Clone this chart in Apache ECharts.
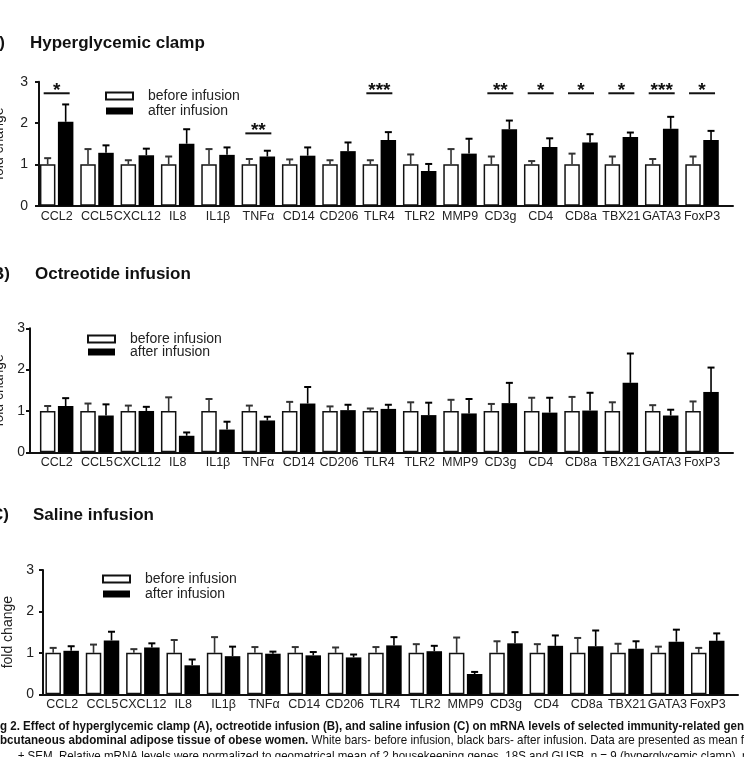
<!DOCTYPE html>
<html>
<head>
<meta charset="utf-8">
<script src="https://cdn.jsdelivr.net/npm/echarts@6/dist/echarts.min.js"></script>
<style>
  html, body { margin: 0; padding: 0; background: #fff; }
  #chart { width: 744px; height: 757px; }
</style>
</head>
<body>
<div id="chart"></div>
<script>
// genes on the x axis (same for all three panels)
const genes = ['CCL2', 'CCL5', 'CXCL12', 'IL8', 'IL1β', 'TNFα', 'CD14', 'CD206', 'TLR4',
  'TLR2', 'MMP9', 'CD3g', 'CD4', 'CD8a', 'TBX21', 'GATA3', 'FoxP3'];

// before infusion is the reference level (fold change = 1)
const beforeMean = [1, 1, 1, 1, 1, 1, 1, 1, 1, 1, 1, 1, 1, 1, 1, 1, 1];

// A) hyperglycemic clamp
const clampBeforeSem = [0.15, 0.37, 0.10, 0.19, 0.37, 0.13, 0.12, 0.10, 0.10, 0.24, 0.37, 0.19, 0.08, 0.26, 0.19, 0.13, 0.19];
const clampAfter = [2.03, 1.28, 1.22, 1.50, 1.23, 1.19, 1.21, 1.32, 1.59, 0.84, 1.26, 1.85, 1.42, 1.53, 1.66, 1.86, 1.59];
const clampAfterSem = [0.42, 0.18, 0.16, 0.35, 0.18, 0.14, 0.20, 0.21, 0.19, 0.17, 0.36, 0.21, 0.21, 0.20, 0.11, 0.29, 0.22];
// significance marks: number of stars and height of the bar line
const clampStars = [1, 0, 0, 0, 0, 2, 0, 0, 3, 0, 0, 2, 1, 1, 1, 3, 1];
const clampStarLevel = [2.72, 0, 0, 0, 0, 1.75, 0, 0, 2.72, 0, 0, 2.72, 2.72, 2.72, 2.72, 2.72, 2.72];

// B) octreotide infusion
const octBeforeSem = [0.12, 0.18, 0.13, 0.33, 0.29, 0.13, 0.22, 0.11, 0.06, 0.21, 0.27, 0.17, 0.32, 0.34, 0.21, 0.14, 0.23];
const octAfter = [1.12, 0.89, 1.00, 0.40, 0.55, 0.77, 1.18, 1.02, 1.05, 0.90, 0.94, 1.19, 0.96, 1.01, 1.68, 0.89, 1.46];
const octAfterSem = [0.19, 0.27, 0.10, 0.08, 0.19, 0.09, 0.40, 0.13, 0.10, 0.30, 0.35, 0.49, 0.36, 0.43, 0.71, 0.14, 0.59];

// C) saline infusion
const salBeforeSem = [0.12, 0.20, 0.09, 0.31, 0.38, 0.14, 0.14, 0.13, 0.14, 0.21, 0.37, 0.28, 0.21, 0.36, 0.22, 0.15, 0.12];
const salAfter = [1.05, 1.30, 1.13, 0.70, 0.92, 0.98, 0.94, 0.89, 1.18, 1.04, 0.49, 1.23, 1.17, 1.16, 1.10, 1.27, 1.29];
const salAfterSem = [0.11, 0.21, 0.10, 0.14, 0.23, 0.05, 0.08, 0.07, 0.20, 0.13, 0.05, 0.27, 0.25, 0.38, 0.18, 0.29, 0.18];

const FONT = '"Liberation Sans", Arial, Helvetica, sans-serif';
const INK = '#111';

const chart = echarts.init(document.getElementById('chart'));

// error bar (upper whisker only), shifted to the white / black bar
function errorBar(offset, color) {
  return function (params, api) {
    const i = api.value(0);
    const p0 = api.coord([i, api.value(1)]);
    const p1 = api.coord([i, api.value(2)]);
    const x = p0[0] + offset;
    return {
      type: 'group',
      children: [
        { type: 'line', shape: { x1: x, y1: p0[1], x2: x, y2: p1[1] }, style: { stroke: color, lineWidth: 1.6 } },
        { type: 'line', shape: { x1: x - 3.5, y1: p1[1], x2: x + 3.5, y2: p1[1] }, style: { stroke: color, lineWidth: 2 } }
      ]
    };
  };
}

function sigMark(params, api) {
  const p = api.coord([api.value(0), api.value(1)]);
  const n = api.value(2);
  return {
    type: 'group',
    children: [
      { type: 'line', shape: { x1: p[0] - 13, y1: p[1], x2: p[0] + 13, y2: p[1] }, style: { stroke: INK, lineWidth: 2 } },
      { type: 'text', x: p[0], y: p[1] - 3, style: { text: '*'.repeat(n), font: 'bold 19px ' + FONT, fill: INK, align: 'center', verticalAlign: 'middle' } }
    ]
  };
}

const grid = [], xAxis = [], yAxis = [], series = [], legend = [];

function panel(k, cfg) {
  const f = 2 * k, b = 2 * k + 1;
  // frame grid: axis lines and y labels
  grid.push({ left: cfg.axisLeft, right: cfg.axisRight, top: cfg.top, height: cfg.height, outerBoundsMode: 'none', containLabel: false });
  // bar grid: category bands
  grid.push({ left: cfg.barLeft, right: cfg.barRight, top: cfg.top, height: cfg.height, outerBoundsMode: 'none', containLabel: false });
  xAxis.push({
    gridIndex: f, type: 'value', min: 0, max: 1,
    axisLine: { show: true, onZero: false, lineStyle: { color: INK, width: 2 } },
    axisTick: { show: false }, axisLabel: { show: false }, splitLine: { show: false }
  });
  xAxis.push({
    gridIndex: b, type: 'category', data: genes,
    axisLine: { show: false }, axisTick: { show: false },
    axisLabel: { interval: 0, margin: 4, fontSize: 12.5, fontFamily: FONT, color: '#222', hideOverlap: false }
  });
  yAxis.push({
    gridIndex: f, type: 'value', min: 0, max: 3, interval: 1,
    name: 'fold change', nameLocation: 'middle', nameGap: cfg.nameGap,
    nameTextStyle: { fontSize: 14, fontFamily: FONT, color: '#222' },
    axisLine: { show: true, onZero: false, lineStyle: { color: INK, width: 2 } },
    axisTick: { show: true, length: 4, lineStyle: { color: INK, width: 2 } },
    axisLabel: { margin: cfg.labelMargin, fontSize: 14, fontFamily: FONT, color: '#222' },
    splitLine: { show: false }
  });
  yAxis.push({ gridIndex: b, type: 'value', min: 0, max: 3, show: false });

  series.push({
    name: 'before infusion', type: 'bar', xAxisIndex: b, yAxisIndex: b,
    data: beforeMean, barWidth: 15.5, barGap: '16%',
    itemStyle: { color: '#fff', borderColor: INK, borderWidth: 1.5 }
  });
  series.push({
    name: 'after infusion', type: 'bar', xAxisIndex: b, yAxisIndex: b,
    data: cfg.after, barWidth: 15.5, barGap: '16%',
    itemStyle: { color: '#000' }
  });
  series.push({
    type: 'custom', xAxisIndex: b, yAxisIndex: b, z: 5,
    renderItem: errorBar(-9, '#333'),
    data: beforeMean.map((v, i) => [i, v, v + cfg.beforeSem[i]])
  });
  series.push({
    type: 'custom', xAxisIndex: b, yAxisIndex: b, z: 5,
    renderItem: errorBar(9, '#000'),
    data: cfg.after.map((v, i) => [i, v, v + cfg.afterSem[i]])
  });
  if (cfg.stars) {
    series.push({
      type: 'custom', xAxisIndex: b, yAxisIndex: b, z: 5, clip: false,
      renderItem: sigMark,
      data: cfg.stars.map((n, i) => [i, cfg.starLevel[i], n]).filter(d => d[2] > 0)
    });
  }
  legend.push({
    data: [{ name: 'before infusion', icon: 'rect' }, { name: 'after infusion', icon: 'rect' }],
    orient: 'vertical',
    left: cfg.legendLeft, top: cfg.legendTop, itemGap: cfg.legendGap,
    itemWidth: 27, itemHeight: 7, selectedMode: false, padding: 0,
    textStyle: { fontSize: 14, fontFamily: FONT, color: '#222', padding: [0, 0, 0, 10] }
  });
}

panel(0, {
  axisLeft: 39, axisRight: 11, barLeft: 36.5, barRight: 21.8, top: 81.7, height: 124,
  nameGap: 33, labelMargin: 11,
  after: clampAfter, beforeSem: clampBeforeSem, afterSem: clampAfterSem,
  stars: clampStars, starLevel: clampStarLevel,
  legendLeft: 105, legendTop: 89, legendGap: 1
});
panel(1, {
  axisLeft: 30, axisRight: 11, barLeft: 36.5, barRight: 21.8, top: 328.3, height: 124,
  nameGap: 24, labelMargin: 5,
  after: octAfter, beforeSem: octBeforeSem, afterSem: octAfterSem,
  legendLeft: 87, legendTop: 332, legendGap: -1
});
panel(2, {
  axisLeft: 43, axisRight: 6, barLeft: 42, barRight: 16.1, top: 570, height: 124.3,
  nameGap: 27, labelMargin: 9,
  after: salAfter, beforeSem: salBeforeSem, afterSem: salAfterSem,
  legendLeft: 102, legendTop: 572, legendGap: 1
});

// caption: condensed to fit the cropped figure width
const ctx = document.createElement('canvas').getContext('2d');
function tw(t, font) { ctx.font = font; return ctx.measureText(t).width; }
const capB = 'bold 13px ' + FONT, capN = '13px ' + FONT;
const cap1 = 'Fig 2. Effect of hyperglycemic clamp (A), octreotide infusion (B), and saline infusion (C) on mRNA levels of selected immunity-related genes in';
const s1 = 744 / tw('g 2. Effect of hyperglycemic clamp (A), octreotide infusion (B), and saline infusion (C) on mRNA levels of selected immunity-related gen', capB);
const cap2b = 'subcutaneous abdominal adipose tissue of obese women.';
const cap2n = ' White bars- before infusion, black bars- after infusion. Data are presented as mean fold';
const s2 = 744 / (tw('bcutaneous abdominal adipose tissue of obese women.', capB) + tw(' White bars- before infusion, black bars- after infusion. Data are presented as mean f', capN));
const cap3 = '± SEM. Relative mRNA levels were normalized to geometrical mean of 2 housekeeping genes, 18S and GUSB. n = 9 (hyperglycemic clamp), n = 8';

const text = (x, y, t, font, align) => ({
  type: 'text', x: x, y: y,
  style: { text: t, font: font, fill: '#111', align: align || 'left', verticalAlign: 'middle' }
});

const graphic = [
  text(5, 43, 'A)', 'bold 17px ' + FONT, 'right'),
  text(30, 43, 'Hyperglycemic clamp', 'bold 17px ' + FONT),
  text(10, 274, 'B)', 'bold 17px ' + FONT, 'right'),
  text(35, 274, 'Octreotide infusion', 'bold 17px ' + FONT),
  text(9, 515, 'C)', 'bold 17px ' + FONT, 'right'),
  text(33, 515, 'Saline infusion', 'bold 17px ' + FONT),
  Object.assign(text(-tw('Fi', capB) * s1, 726, cap1, capB), { scaleX: s1 }),
  {
    type: 'text', x: -tw('su', capB) * s2, y: 740, scaleX: s2,
    style: {
      text: '{b|' + cap2b + '}{n|' + cap2n + '}', verticalAlign: 'middle', fill: '#111',
      rich: { b: { font: capB, fill: '#111' }, n: { font: capN, fill: '#111' } }
    }
  },
  Object.assign(text(18, 756, cap3, capN), { scaleX: s1 })
];

chart.setOption({
  animation: false,
  backgroundColor: '#fff',
  grid: grid, xAxis: xAxis, yAxis: yAxis, series: series, legend: legend,
  graphic: graphic
});
</script>
</body>
</html>
